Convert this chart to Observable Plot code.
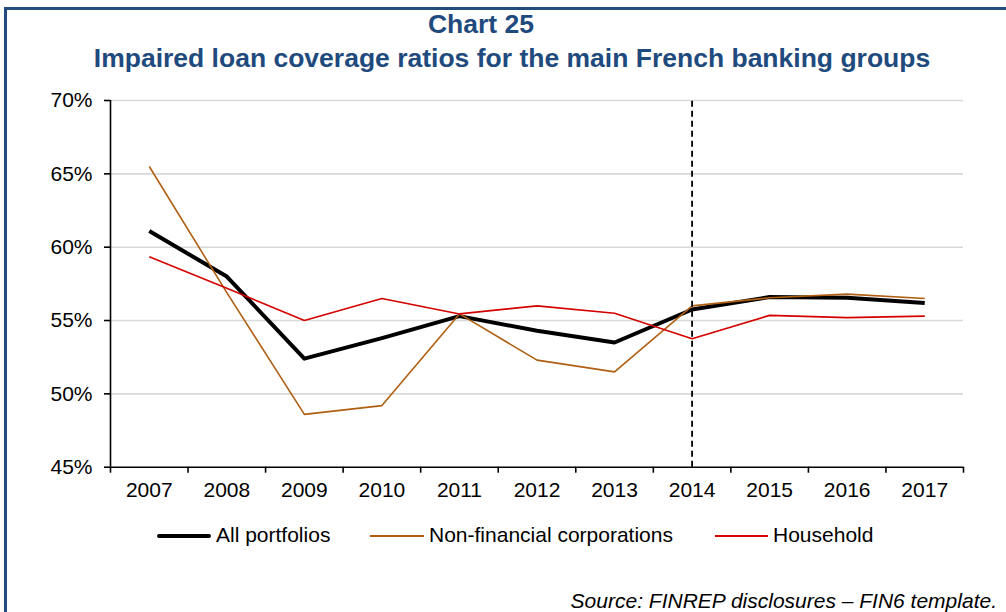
<!DOCTYPE html>
<html>
<head>
<meta charset="utf-8">
<script src="https://cdn.jsdelivr.net/npm/d3@7"></script>
<script src="https://cdn.jsdelivr.net/npm/@observablehq/plot@0.6"></script>
<style>
  html, body { margin: 0; padding: 0; background: #fff; }
  #wrap { position: relative; width: 1006px; height: 612px; overflow: hidden; font-family: "Liberation Sans", Arial, sans-serif; }
  #frame { position: absolute; left: 4px; top: 7px; width: 1100px; height: 700px; border-left: 3px solid #224b7e; border-top: 3px solid #224b7e; box-sizing: border-box; }
  .title { position: absolute; color: #1f4a7d; font-weight: bold; font-size: 26.5px; white-space: nowrap; line-height: 1; }
  #chart { position: absolute; left: 0; top: 0; }
  .leg { position: absolute; top: 524px; font-size: 21px; color: #000; white-space: nowrap; line-height: 1; }
  .sw { position: absolute; }
  #source { position: absolute; right: 9px; top: 590px; font-size: 21px; font-style: italic; color: #000; white-space: nowrap; line-height: 1; }
</style>
</head>
<body>
<div id="wrap">
  <div id="frame"></div>
  <div class="title" id="t1" style="left:481px; top:11px; transform:translateX(-50%);">Chart 25</div>
  <div class="title" id="t2" style="left:512px; top:45px; transform:translateX(-50%);">Impaired loan coverage ratios for the main French banking groups</div>
  <div id="chart"></div>
  <div id="legend"></div>
  <div id="source">Source: FINREP disclosures – FIN6 template.</div>
</div>
<script>
const years = [2007, 2008, 2009, 2010, 2011, 2012, 2013, 2014, 2015, 2016, 2017];
const allPortfolios = [0.611, 0.580, 0.524, 0.538, 0.553, 0.543, 0.535, 0.5575, 0.566, 0.5655, 0.562];
const nonFinancialCorporations = [0.655, 0.569, 0.486, 0.492, 0.5545, 0.523, 0.515, 0.560, 0.5655, 0.568, 0.565];
const household = [0.5935, 0.572, 0.550, 0.565, 0.5545, 0.560, 0.555, 0.5375, 0.5535, 0.552, 0.553];
const seriesNames = ["All portfolios", "Non-financial corporations", "Household"];
const seriesColors = ["#000000", "#b05f12", "#d40000"];
const seriesWidths = [4, 1.6, 1.6];
const yTicks = [0.45, 0.50, 0.55, 0.60, 0.65, 0.70];
const dividerYear = 2014;

const seriesValues = [allPortfolios, nonFinancialCorporations, household];
const data = [];
seriesNames.forEach((name, i) => {
  years.forEach((yr, j) => data.push({series: name, year: yr, value: seriesValues[i][j]}));
});
const xDomain = [years[0] - 0.5, years[years.length - 1] + 0.5];
const boundaries = years.map(y => y - 0.5).concat([years[years.length - 1] + 0.5]);

const plot = Plot.plot({
  width: 1006,
  height: 520,
  marginLeft: 110,
  marginRight: 43,
  marginTop: 100,
  marginBottom: 53.3,
  style: {fontFamily: '"Liberation Sans", Arial, sans-serif', fontSize: "21px", color: "#000", background: "transparent"},
  x: {domain: xDomain, axis: null},
  y: {domain: [yTicks[0], yTicks[yTicks.length - 1]], axis: null},
  marks: [
    Plot.gridY(yTicks.slice(1), {stroke: "#d9d9d9", strokeOpacity: 1, strokeWidth: 1.6}),
    Plot.axisY(yTicks, {label: null, tickFormat: d3.format(".0%"), tickSize: 6, tickPadding: 12, fontSize: 21, stroke: "#000", strokeWidth: 1.6}),
    Plot.axisX(boundaries, {label: null, tickSize: 6, tickFormat: () => "", stroke: "#000", strokeWidth: 1.6}),
    Plot.axisX(years, {label: null, tickSize: 0, tickPadding: 15, tickFormat: d => String(d), fontSize: 21}),
    Plot.ruleX([xDomain[0]], {y1: yTicks[0], y2: yTicks[yTicks.length - 1], stroke: "#000", strokeWidth: 1.6}),
    Plot.ruleY([yTicks[0]], {stroke: "#000", strokeWidth: 1.6}),
    ...seriesNames.map((name, i) => Plot.line(data.filter(d => d.series === name), {
      x: "year", y: "value", stroke: seriesColors[i], strokeWidth: seriesWidths[i], strokeLinejoin: "round", strokeLinecap: "butt"
    })),
    Plot.ruleX([dividerYear], {y1: yTicks[0], y2: yTicks[yTicks.length - 1], stroke: "#000", strokeWidth: 1.8, strokeDasharray: "6,4"})
  ]
});
document.getElementById("chart").appendChild(plot);

// legend
const legendPos = [{sw: 157, text: 216}, {sw: 370, text: 429}, {sw: 715, text: 773}];
const legend = document.getElementById("legend");
seriesNames.forEach((name, i) => {
  const sw = document.createElement("div");
  sw.className = "sw";
  const h = seriesWidths[i];
  sw.style.left = legendPos[i].sw + "px";
  sw.style.width = (legendPos[i].text - legendPos[i].sw - 5) + "px";
  sw.style.top = (536 - h / 2) + "px";
  sw.style.height = h + "px";
  sw.style.background = seriesColors[i];
  sw.style.borderRadius = h > 2 ? "2px" : "0";
  legend.appendChild(sw);
  const t = document.createElement("div");
  t.className = "leg";
  t.style.left = legendPos[i].text + "px";
  t.textContent = name;
  legend.appendChild(t);
});
</script>
</body>
</html>
